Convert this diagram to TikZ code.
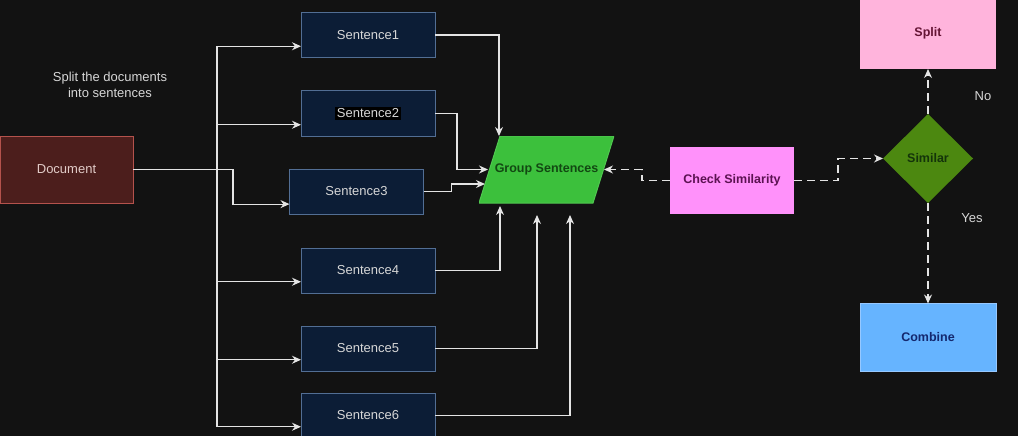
\documentclass[tikz,border=0pt]{standalone}
\usepackage{fontspec}
\setmainfont{Liberation Sans}
\usetikzlibrary{shapes.geometric,arrows.meta,calc}
\definecolor{bg}{RGB}{18,18,18}
\definecolor{lineclr}{RGB}{228,228,228}
\definecolor{txt}{RGB}{215,215,215}
\definecolor{sentfill}{RGB}{12,29,54}
\definecolor{sentdraw}{RGB}{82,110,148}
\definecolor{docfill}{RGB}{76,30,28}
\definecolor{docdraw}{RGB}{180,82,76}
\definecolor{doctxt}{RGB}{226,204,200}
\definecolor{grpfill}{RGB}{60,192,60}
\definecolor{grpdraw}{RGB}{80,200,80}
\definecolor{grptxt}{RGB}{18,72,18}
\definecolor{csfill}{RGB}{255,145,250}
\definecolor{cstxt}{RGB}{92,18,82}
\definecolor{splitfill}{RGB}{255,180,220}
\definecolor{splittxt}{RGB}{100,20,52}
\definecolor{simfill}{RGB}{76,136,16}
\definecolor{simtxt}{RGB}{20,52,10}
\definecolor{combfill}{RGB}{102,180,255}
\definecolor{combdraw}{RGB}{150,200,255}
\definecolor{combtxt}{RGB}{20,40,110}
\tikzset{
  sentbox/.style={draw=sentdraw, fill=sentfill, line width=1pt, minimum width=134, minimum height=45, inner sep=0pt, outer sep=0pt, text=txt, font=\fontsize{13}{16}\selectfont},
  plainbox/.style={line width=1pt, inner sep=0pt, outer sep=0pt, font=\bfseries\fontsize{12.5}{15}\selectfont},
  conn/.style={draw=lineclr, line width=1.2pt, -{Stealth[length=9pt,width=8pt]}},
  dconn/.style={conn, dash pattern=on 8pt off 5pt},
  lbl/.style={text=txt, font=\fontsize{13}{16}\selectfont, inner sep=0pt}
}
\begin{document}
\begin{tikzpicture}[x=1pt,y=-1pt]
\fill[bg] (0,0) rectangle (1018,436);
\useasboundingbox (0,0) rectangle (1018,436);

% nodes
\node[plainbox, draw=docdraw, fill=docfill, minimum width=133, minimum height=67, text=doctxt, font=\fontsize{13}{16}\selectfont] (doc) at (66.5,169.5) {Document};
\node[lbl, align=center, font=\fontsize{13}{16}\selectfont] (note) at (110,85) {Split the documents\\into sentences};

\node[sentbox] (s1) at (368,35) {Sentence1};
\node[sentbox] (s2) at (368,113.5) {\setlength{\fboxsep}{1.5pt}\colorbox{black}{Sentence2}};
\node[sentbox] (s3) at (356.5,191.5) {Sentence3};
\node[sentbox] (s4) at (368,270.5) {Sentence4};
\node[sentbox] (s5) at (368,348.5) {Sentence5};
\node[sentbox] (s6) at (368,415.5) {Sentence6};

\node[plainbox, fill=bg, minimum width=135, minimum height=67, text=grptxt,
  path picture={\draw[fill=grpfill, draw=grpdraw, line width=1pt]
    (path picture bounding box.south west) -- ($(path picture bounding box.south west)+(114,0)$)
    -- (path picture bounding box.north east) -- ($(path picture bounding box.north east)+(-114,0)$) -- cycle;}]
  (group) at (546.5,169.5) {Group Sentences};

\node[plainbox, fill=csfill, minimum width=124, minimum height=67, text=cstxt] (cs) at (732,180.5) {Check Similarity};
\node[plainbox, diamond, fill=simfill, minimum width=90, minimum height=89, text=simtxt] (sim) at (928,158.5) {Similar};
\node[plainbox, fill=splitfill, minimum width=136, minimum height=72, text=splittxt] (split) at (928,33) {Split};
\node[plainbox, draw=combdraw, fill=combfill, minimum width=136, minimum height=68, text=combtxt] (comb) at (928,337.5) {Combine};

\node[lbl] (no) at (983,96) {No};
\node[lbl] (yes) at (972,218) {Yes};

% document to sentences
\coordinate (trunk) at ($(doc.east)+(84,0)$);
\coordinate (t1) at ($(s1.south west)!0.25!(s1.north west)$);
\coordinate (t2) at ($(s2.south west)!0.25!(s2.north west)$);
\coordinate (t3) at ($(s3.south west)!0.22!(s3.north west)$);
\coordinate (t4) at ($(s4.south west)!0.25!(s4.north west)$);
\coordinate (t5) at ($(s5.south west)!0.25!(s5.north west)$);
\coordinate (t6) at ($(s6.south west)!0.25!(s6.north west)$);
\draw[conn] (doc.east) -- ($(doc.east)+(100,0)$) |- (t3);
\draw[conn] (trunk) |- (t1);
\draw[conn] (trunk) |- (t2);
\draw[conn] (trunk) |- (t4);
\draw[conn] (trunk) |- (t5);
\draw[conn] (trunk) |- (t6);

% sentences to group
\draw[conn] (s1.east) -| ($(group.north west)+(20,0)$);
\draw[conn] (s2.east) -- ++(22,0) |- ($(group.west)+(9,0)$);
\draw[conn] (s3.east) -- ++(28,0) |- ($(group.west)+(6,14.5)$);
\draw[conn] (s4.east) -| ($(group.south west)+(21,3)$);
\draw[conn] (s5.east) -| ($(group.south west)+(58,12)$);
\draw[conn] (s6.east) -| ($(group.south west)+(91,12)$);

% similarity flow
\draw[dconn] (cs.west) -- ++(-28,0) |- ($(group.east)+(-10,0)$);
\draw[dconn] (cs.east) -- ++(44,0) |- (sim.west);
\draw[dconn] (sim.north) -- (split.south);
\draw[dconn] (sim.south) -- (comb.north);
\end{tikzpicture}
\end{document}
